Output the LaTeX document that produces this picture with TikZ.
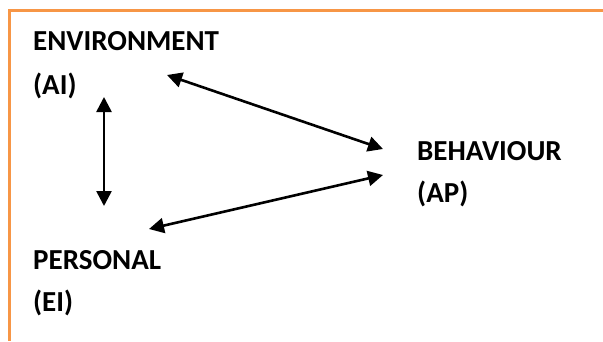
\documentclass[tikz,border=0pt]{standalone}
\usepackage{fontspec}
\setmainfont{Carlito}
\usetikzlibrary{arrows.meta}
\definecolor{frameorange}{HTML}{F79646}
\tikzset{
  lbl/.style={anchor=base west, inner sep=0pt, font=\bfseries\fontsize{29}{34}\selectfont},
  dblarrow/.style={line width=2.6pt, {Triangle[length=15pt,width=15pt]}-{Triangle[length=15pt,width=15pt]}},
  frame/.style={frameorange, line width=3.2pt}
}
\begin{document}
\begin{tikzpicture}[x=1pt,y=-1pt]
\useasboundingbox (0,0) rectangle (603,341);
\draw[frame] (603,10.5) -- (9.5,10.5) -- (9.5,341);
\node[lbl] (env) at (33,50) {ENVIRONMENT};
\node[lbl] (ai) at (33,94) {(AI)};
\node[lbl] (beh) at (417,160) {BEHAVIOUR};
\node[lbl] (ap) at (417,202) {(AP)};
\node[lbl] (per) at (33,269) {PERSONAL};
\node[lbl] (ei) at (33,311) {(EI)};
\coordinate (v1) at (104,97);
\coordinate (v2) at (104,206);
\coordinate (a1) at (167,75);
\coordinate (a2) at (383,149);
\coordinate (b1) at (149,229);
\coordinate (b2) at (383,175);
\draw[dblarrow] (v1) -- (v2);
\draw[dblarrow] (a1) -- (a2);
\draw[dblarrow] (b1) -- (b2);
\end{tikzpicture}
\end{document}
